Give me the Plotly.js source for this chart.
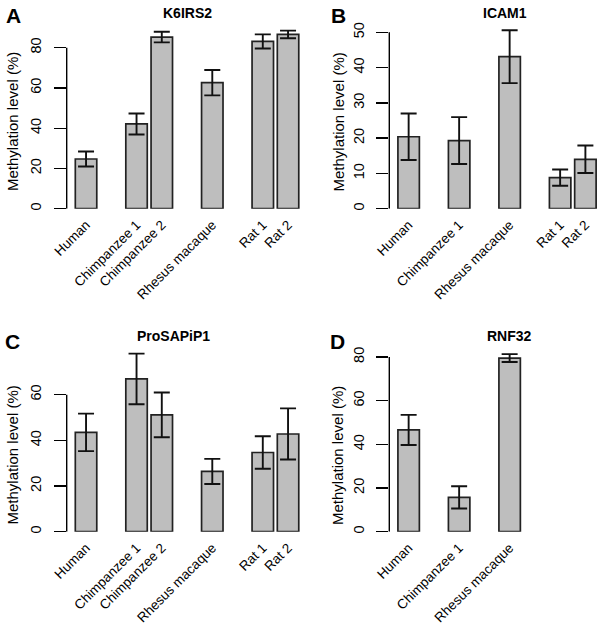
<!DOCTYPE html>
<html>
<head>
<meta charset="utf-8">
<script src="https://cdn.plot.ly/plotly-3.0.1.min.js"></script>
<style>html,body{margin:0;padding:0;background:#fff}#chart{width:600px;height:628px}</style>
</head>
<body>
<div id="chart"></div>
<script>
// ---- data ----
const panelLetters = ['A', 'B', 'C', 'D'];
const geneNames = ['K6IRS2', 'ICAM1', 'ProSAPiP1', 'RNF32'];

const samplesA = ['Human', 'Chimpanzee 1', 'Chimpanzee 2', 'Rhesus macaque', 'Rat 1', 'Rat 2'];
const groupsA = ['Human', 'Chimpanzee', 'Chimpanzee', 'Rhesus', 'Rat', 'Rat'];
const valuesA = [24.7, 42.1, 85.3, 62.6, 83.1, 86.6];
const errorsA = [3.7, 5.2, 2.65, 6.3, 3.5, 1.9];

const samplesB = ['Human', 'Chimpanzee 1', 'Rhesus macaque', 'Rat 1', 'Rat 2'];
const groupsB = ['Human', 'Chimpanzee', 'Rhesus', 'Rat', 'Rat'];
const valuesB = [20.4, 19.3, 43.1, 8.8, 14.0];
const errorsB = [6.6, 6.65, 7.5, 2.3, 3.9];

const samplesC = ['Human', 'Chimpanzee 1', 'Chimpanzee 2', 'Rhesus macaque', 'Rat 1', 'Rat 2'];
const groupsC = ['Human', 'Chimpanzee', 'Chimpanzee', 'Rhesus', 'Rat', 'Rat'];
const valuesC = [43.5, 66.9, 51.2, 26.4, 34.7, 42.8];
const errorsC = [8.2, 11.1, 9.8, 5.5, 7.1, 11.2];

const samplesD = ['Human', 'Chimpanzee 1', 'Rhesus macaque'];
const groupsD = ['Human', 'Chimpanzee', 'Rhesus'];
const valuesD = [46.6, 15.7, 79.5];
const errorsD = [6.9, 5.1, 1.8];

const yTicksA = [0, 20, 40, 60, 80];
const yTicksB = [0, 10, 20, 30, 40, 50];
const yTicksC = [0, 20, 40, 60];
const yTicksD = [0, 20, 40, 60, 80];

const yLabel = 'Methylation level (%)';

// ---- layout helpers (pixels) ----
const W = 600, H = 628;
const FONT = '"Liberation Sans", Arial, Helvetica, sans-serif';
const slotPx = 25.25;      // pixel pitch of one bar slot
const firstSlotOffset = 0.766; // slot units from axis to first bar centre

// slot positions: a blank slot is inserted whenever the species group changes
function slotPositions(groups) {
  const pos = [];
  let p = 0;
  groups.forEach((g, i) => {
    if (i > 0) p += (g === groups[i - 1]) ? 1 : 2;
    pos.push(p);
  });
  return pos;
}

const panels = [
  {samples: samplesA, groups: groupsA, values: valuesA, errors: errorsA, ticks: yTicksA,
   px: [66.7, 305], py: [25, 208.7], ppu: 2.0125, title: [187, 12.7], letter: [4, 15], ylab: [12, 122]},
  {samples: samplesB, groups: groupsB, values: valuesB, errors: errorsB, ticks: yTicksB,
   px: [389.3, 600], py: [25, 208.7], ppu: 3.528, title: [504.5, 12.7], letter: [329, 15], ylab: [337.5, 122]},
  {samples: samplesC, groups: groupsC, values: valuesC, errors: errorsC, ticks: yTicksC,
   px: [66.7, 305], py: [345, 531.7], ppu: 2.283, title: [173, 335.7], letter: [3, 341], ylab: [12, 455.5]},
  {samples: samplesD, groups: groupsD, values: valuesD, errors: errorsD, ticks: yTicksD,
   px: [389.3, 600], py: [345, 531.7], ppu: 2.184, title: [509.5, 335.7], letter: [328, 341], ylab: [337.5, 455.5]}
];

const traces = [];
const layout = {
  width: W, height: H,
  margin: {l: 0, r: 0, t: 0, b: 0},
  paper_bgcolor: '#ffffff', plot_bgcolor: 'rgba(0,0,0,0)',
  showlegend: false,
  font: {family: FONT, size: 14, color: '#000'},
  annotations: [], shapes: []
};

panels.forEach((p, i) => {
  const n = i + 1;
  const xa = 'x' + (n === 1 ? '' : n), ya = 'y' + (n === 1 ? '' : n);
  const xKey = 'xaxis' + (n === 1 ? '' : n), yKey = 'yaxis' + (n === 1 ? '' : n);
  const pos = slotPositions(p.groups);
  traces.push({
    type: 'bar', x: pos, y: p.values, xaxis: xa, yaxis: ya, width: 0.85,
    marker: {color: '#bebebe', line: {color: '#222222', width: 1.7}},
    error_y: {type: 'data', array: p.errors, visible: true, color: '#111', thickness: 1.9, width: 8},
    hoverinfo: 'x+y', cliponaxis: false
  });
  const xr0 = -firstSlotOffset;
  const xr1 = xr0 + (p.px[1] - p.px[0]) / slotPx;
  const yTop = (p.py[1] - p.py[0]) / p.ppu;
  layout[xKey] = {
    domain: [p.px[0] / W, p.px[1] / W], range: [xr0, xr1], anchor: ya,
    showgrid: false, zeroline: false, showline: false,
    tickmode: 'array', tickvals: pos, ticktext: p.samples, tickangle: -45,
    ticks: 'outside', ticklen: 2, tickcolor: 'rgba(0,0,0,0)',
    tickfont: {family: FONT, size: 13.5, color: '#000'}, fixedrange: true
  };
  layout[yKey] = {
    domain: [1 - p.py[1] / H, 1 - p.py[0] / H], range: [0, yTop], anchor: xa,
    showgrid: false, zeroline: false, showline: false,
    tickmode: 'array', tickvals: p.ticks, tickangle: -90,
    ticks: 'outside', ticklen: 12, tickwidth: 1.4, tickcolor: '#000',
    ticklabelstandoff: 7,
    tickfont: {family: FONT, size: 14.5, color: '#000'}, fixedrange: true
  };
  // R-style axis line running from first to last tick
  layout.shapes.push({
    type: 'line', xref: xa + ' domain', yref: ya,
    x0: 0, x1: 0, y0: p.ticks[0], y1: p.ticks[p.ticks.length - 1],
    line: {color: '#000', width: 1.4}
  });
  layout.annotations.push({
    text: '<b>' + geneNames[i] + '</b>', xref: 'paper', yref: 'paper',
    x: p.title[0] / W, y: 1 - p.title[1] / H, xanchor: 'center', yanchor: 'middle',
    showarrow: false, font: {family: FONT, size: 14, color: '#000'}
  });
  layout.annotations.push({
    text: '<b>' + panelLetters[i] + '</b>', xref: 'paper', yref: 'paper',
    x: p.letter[0] / W, y: 1 - p.letter[1] / H, xanchor: 'left', yanchor: 'middle',
    showarrow: false, font: {family: FONT, size: 21, color: '#000'}
  });
  layout.annotations.push({
    text: yLabel, xref: 'paper', yref: 'paper', textangle: -90,
    x: p.ylab[0] / W, y: 1 - p.ylab[1] / H, xanchor: 'center', yanchor: 'middle',
    showarrow: false, font: {family: FONT, size: 15, color: '#000'}
  });
});

Plotly.newPlot('chart', traces, layout, {displayModeBar: false, staticPlot: true});
</script>
</body>
</html>
